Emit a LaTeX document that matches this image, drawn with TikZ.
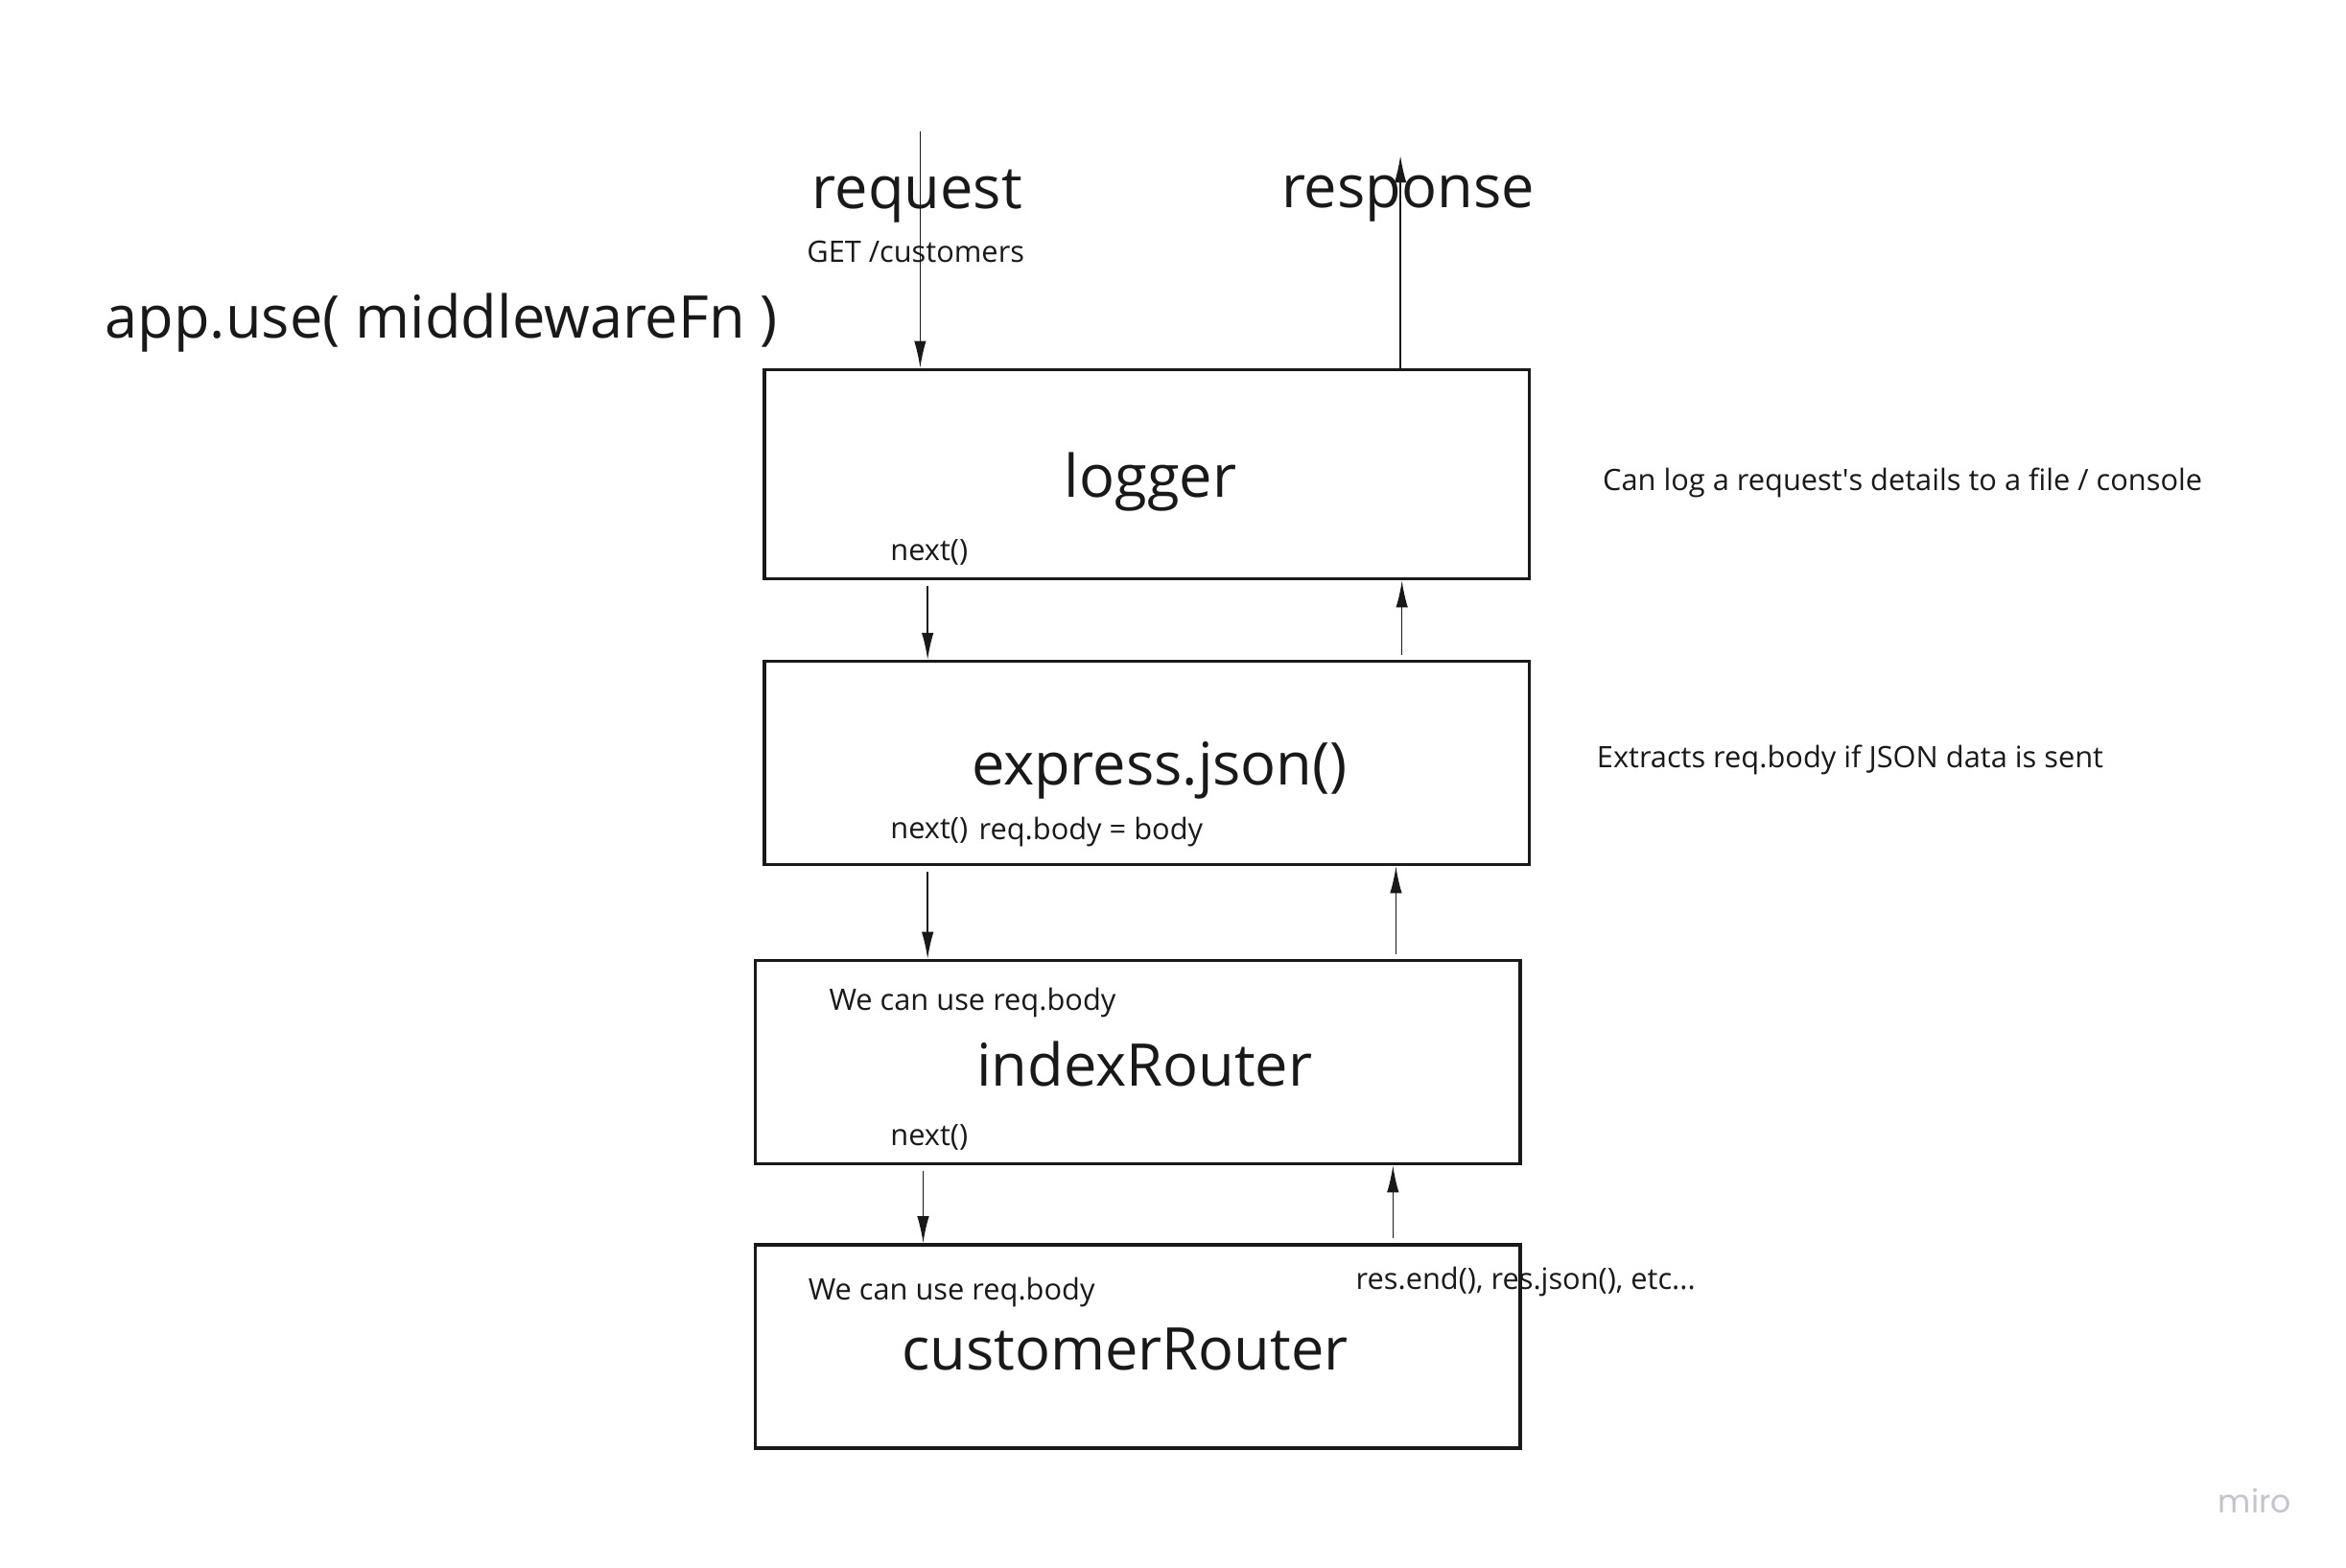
\documentclass[tikz,border=0pt]{standalone}
\usepackage{fontspec}
\setmainfont{Open Sans}
\newfontfamily\logofont{Poppins}
\usetikzlibrary{arrows.meta}
\definecolor{ink}{RGB}{25,25,25}
\definecolor{logogray}{RGB}{196,196,208}
\begin{document}
\begin{tikzpicture}[x=0.75pt,y=-0.75pt,
  box/.style={draw=ink,line width=1.6pt,inner sep=0pt,minimum width=383.25pt,minimum height=102pt},
  big/.style={inner sep=0pt,font=\fontsize{29.5}{34}\selectfont,text=ink},
  small/.style={inner sep=0pt,font=\fontsize{14.8}{18}\selectfont,text=ink},
  arr/.style={draw=ink,line width=0.75pt,-{Latex[length=13.5pt,width=6pt]}}]
\useasboundingbox (0,0) rectangle (1568,1048);
\fill[white] (0,0) rectangle (1568,1048);
% boxes
\node[box,minimum height=105pt] (logger) at (766.5,317) {};
\node[box] (express) at (766.5,510) {};
\node[box] (index) at (760.5,710) {};
\node[box] (customer) at (760.5,900) {};
% titles
\node[big] (tlogger) at (769,322) {logger};
\node[big] (texpress) at (775,515) {express.json()};
\node[big] (tindex) at (765,711) {indexRouter};
\node[big] (tcustomer) at (752,902) {customerRouter};
\node[big] (treq) at (613,131) {request};
\node[big] (tres) at (941,133) {response};
\node[big,anchor=west] (tapp) at (70,216) {app.use( middlewareFn )};
% small texts
\node[small] (get) at (612,168) {GET /customers};
\node[small] (n1) at (621,369) {next()};
\node[small] (n2) at (621,555) {next()};
\node[small,anchor=west] (rb) at (654,556) {req.body = body};
\node[small] (w1) at (650,670) {We can use req.body};
\node[small] (n3) at (621,760) {next()};
\node[small] (w2) at (636,864) {We can use req.body};
\node[small,anchor=west] (resend) at (906,857) {res.end(), res.json(), etc...};
\node[small,anchor=west] (c1) at (1071,323) {Can log a request\textquotesingle s details to a file / console};
\node[small,anchor=west] (c2) at (1067,508) {Extracts req.body if JSON data is sent};
\node[inner sep=0pt,text=logogray,font=\logofont\fontsize{16}{18}\selectfont] (miro) at (1507,1003) {miro};
% connector guide coordinates
\coordinate (reqtop) at (615,88);
\coordinate (restop) at (936,104);
\coordinate (d1) at (620,0);
\coordinate (u1) at (937,0);
\coordinate (d2) at (620,0);
\coordinate (u2) at (933,0);
\coordinate (d3) at (617,0);
\coordinate (u3) at (931,0);
% arrows
\draw[arr] (reqtop) -- (reqtop |- logger.north);
\draw[arr] (restop |- logger.north) -- (restop);
\draw[arr,shorten <=2.5pt] (logger.south -| d1) -- (express.north -| d1);
\draw[arr,shorten <=2.5pt] (express.north -| u1) -- (logger.south -| u1);
\draw[arr,shorten <=2.5pt] (express.south -| d2) -- (index.north -| d2);
\draw[arr,shorten <=2.5pt] (index.north -| u2) -- (express.south -| u2);
\draw[arr,shorten <=2.5pt] (index.south -| d3) -- (customer.north -| d3);
\draw[arr,shorten <=2.5pt] (customer.north -| u3) -- (index.south -| u3);
\end{tikzpicture}
\end{document}
